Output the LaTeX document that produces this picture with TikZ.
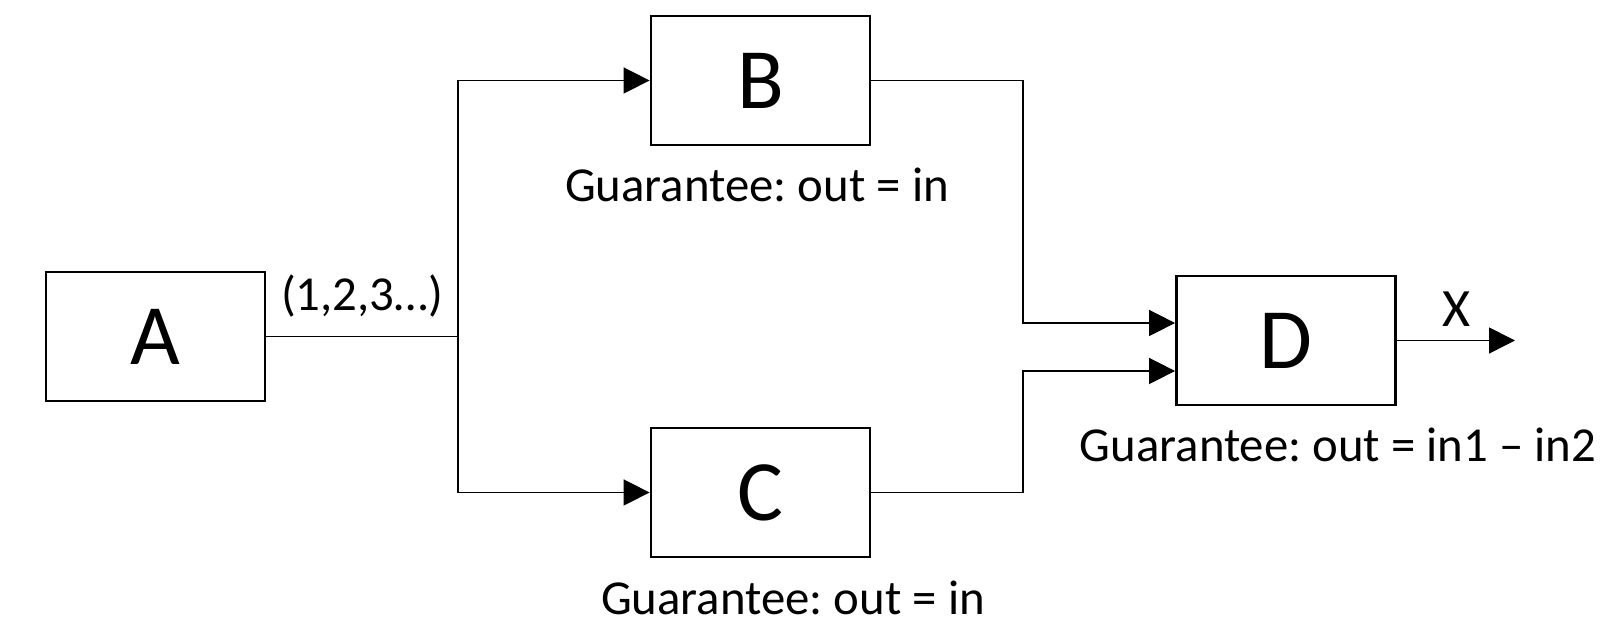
\documentclass[tikz,border=0pt]{standalone}
\usepackage{fontspec}
\setmainfont{Carlito}
\usetikzlibrary{arrows.meta,calc}
\frenchspacing
\begin{document}
\begin{tikzpicture}[x=0.5pt,y=-0.5pt,
  blockbox/.style={draw,line width=1.4pt,minimum width=109.5pt,minimum height=64.5pt,inner sep=0pt,font=\fontsize{43}{50}\selectfont},
  lab/.style={font=\fontsize{24.4}{29}\selectfont,inner sep=0pt,anchor=base},
  conn/.style={line width=0.8pt},
  arr/.style={conn,-{Triangle[length=13pt,width=13pt]}}]
\useasboundingbox (0,0) rectangle (1613,640);
\node[blockbox] (A) at (155.5,336.5) {A};
\node[blockbox] (B) at (760.5,80.5) {B};
\node[blockbox] (C) at (760.5,492.5) {C};
\node[blockbox] (D) at (1286,340.5) {D};
\node[lab] (seq) at (362,311) {(1,2,3…)};
\node[lab] (gB) at (757,202) {Guarantee: out = in};
\node[lab] (gC) at (793,615) {Guarantee: out = in};
\node[lab] (gD) at (1338,462) {Guarantee: out = in1 – in2};
\node[lab,font=\fontsize{27}{32}\selectfont] (xl) at (1457,327) {X};
\coordinate (split) at (458,336.5);
\coordinate (mx) at (1023,340);
\coordinate (Din1) at ($(D.west)+(0,-17.5)$);
\coordinate (Din2) at ($(D.west)+(0,30.5)$);
\coordinate (xout) at (1515,340.5);
\draw[conn] (A.east) -- (split);
\draw[arr] (split) |- (B.west);
\draw[arr] (split) |- (C.west);
\draw[arr] (B.east) -- (B.east -| mx) -- (mx |- Din1) -- (Din1);
\draw[arr] (C.east) -- (C.east -| mx) -- (mx |- Din2) -- (Din2);
\draw[arr] (D.east) -- (xout);
\end{tikzpicture}
\end{document}
